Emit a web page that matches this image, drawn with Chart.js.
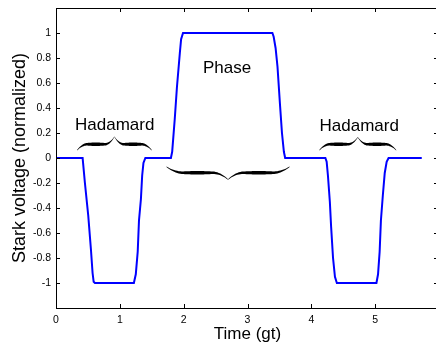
<!DOCTYPE html>
<html>
<head>
<meta charset="utf-8">
<script src="https://cdn.jsdelivr.net/npm/chart.js@4"></script>
<style>
  html, body { margin: 0; padding: 0; background: #fff; overflow: hidden; }
  #wrap { width: 440px; height: 345px; }
</style>
</head>
<body>
<div id="wrap"><canvas id="chart" width="440" height="345"></canvas></div>
<script>
// --- DATA ---
const timeValues = [
  0, 0.40, 0.417, 0.435, 0.453, 0.505, 0.547, 0.573, 0.59, 0.61,
  1.22, 1.25, 1.28, 1.30, 1.33, 1.35, 1.37, 1.40,
  1.80, 1.82, 1.86, 1.895, 1.94, 1.96, 1.99,
  3.39, 3.41, 3.44, 3.47, 3.51, 3.54, 3.57, 3.59,
  4.22, 4.24, 4.26, 4.29, 4.31, 4.34, 4.37, 4.40,
  5.02, 5.045, 5.07, 5.09, 5.12, 5.15, 5.18, 5.21,
  5.73
];
const voltageValues = [
  0, 0, 0, -0.1, -0.2, -0.46, -0.73, -0.92, -0.99, -1,
  -1, -0.93, -0.75, -0.5, -0.33, -0.14, -0.04, 0,
  0, 0.05, 0.31, 0.57, 0.84, 0.95, 1,
  1, 0.97, 0.88, 0.73, 0.42, 0.2, 0.05, 0,
  0, -0.03, -0.14, -0.35, -0.55, -0.8, -0.95, -1,
  -1, -0.93, -0.75, -0.5, -0.3, -0.12, -0.03, 0,
  0
];
const xTicks = [0, 1, 2, 3, 4, 5, 6];
const xTickLabels = ["0", "1", "2", "3", "4", "5", ""]; // 6 is cut off at the edge
const yTicks = [-1, -0.8, -0.6, -0.4, -0.2, 0, 0.2, 0.4, 0.6, 0.8, 1];
const yTickLabels = ["-1", "-0.8", "-0.6", "-0.4", "-0.2", "0", "0.2", "0.4", "0.6", "0.8", "1"];

// annotation labels above the pulses
const noteTexts = ["Hadamard", "Phase", "Hadamard"];
const noteX = [0.92, 2.68, 4.75];
const noteY = [0.224, 0.678, 0.216];

// --- LAYOUT / STYLE ---
const FONT = '"Liberation Sans", Arial, sans-serif';
const LINE_BLUE = "#0000ff";

// braces: [from, to, tip, band, peak] in data units
const braces = [
  [0.33, 1.50, 0.062, 0.11, 0.17],
  [4.125, 5.33, 0.062, 0.11, 0.165],
  [1.73, 3.66, -0.07, -0.118, -0.172]
];

// --- PLUGINS ---
const frameTicks = {
  id: "frameTicks",
  afterDraw(chart) {
    // MATLAB style box with inward tick marks
    const { ctx, chartArea: a, scales } = chart;
    ctx.save();
    ctx.strokeStyle = "#000";
    ctx.lineWidth = 1;
    ctx.strokeRect(a.left + 0.5, a.top + 0.5, a.right - a.left - 1, a.bottom - a.top);
    ctx.beginPath();
    xTicks.forEach(v => {
      const px = Math.round(scales.x.getPixelForValue(v)) + 0.5;
      ctx.moveTo(px, a.bottom); ctx.lineTo(px, a.bottom - 4);
      ctx.moveTo(px, a.top); ctx.lineTo(px, a.top + 4);
    });
    yTicks.forEach(v => {
      const py = Math.round(scales.y.getPixelForValue(v)) + 0.5;
      ctx.moveTo(a.left, py); ctx.lineTo(a.left + 4, py);
      ctx.moveTo(a.right, py); ctx.lineTo(a.right - 5, py);
    });
    ctx.stroke();
    ctx.restore();
  }
};

const notes = {
  id: "notes",
  afterDatasetsDraw(chart) {
    const { ctx, scales } = chart;
    ctx.save();
    ctx.fillStyle = "#000";
    ctx.font = "17px " + FONT;
    ctx.textAlign = "center";
    ctx.textBaseline = "alphabetic";
    noteTexts.forEach((t, i) => {
      ctx.fillText(t, scales.x.getPixelForValue(noteX[i]), scales.y.getPixelForValue(noteY[i]));
    });
    braces.forEach(b => drawBrace(ctx, scales, b));
    ctx.restore();
  }
};

function drawBrace(ctx, scales, b) {
  // curly brace as a filled shape, thick in the middle of each half
  const x1 = scales.x.getPixelForValue(b[0]);
  const x2 = scales.x.getPixelForValue(b[1]);
  const tip = scales.y.getPixelForValue(b[2]);
  const band = scales.y.getPixelForValue(b[3]);
  const peak = scales.y.getPixelForValue(b[4]);
  const xm = (x1 + x2) / 2;
  const N = 40;
  [[x1, xm], [x2, xm]].forEach(([xs, xe]) => {
    const top = [], bot = [];
    for (let i = 0; i <= N; i++) {
      const u = i / N;
      const x = xs + u * (xe - xs);
      let y = band;
      if (u < 0.28) y += (tip - band) * Math.pow(1 - u / 0.28, 2);
      if (u > 0.75) y += (peak - band) * Math.pow((u - 0.75) / 0.25, 2);
      const t = 0.6 + 2.8 * Math.sin(Math.PI * u);
      top.push([x, y - t / 2]);
      bot.push([x, y + t / 2]);
    }
    ctx.beginPath();
    top.forEach((p, i) => (i ? ctx.lineTo(p[0], p[1]) : ctx.moveTo(p[0], p[1])));
    bot.reverse().forEach(p => ctx.lineTo(p[0], p[1]));
    ctx.closePath();
    ctx.fill();
  });
}

// --- CHART ---
Chart.defaults.font.family = FONT;
Chart.defaults.color = "#000";

new Chart(document.getElementById("chart"), {
  type: "line",
  data: {
    datasets: [{
      data: timeValues.map((t, i) => ({ x: t, y: voltageValues[i] })),
      borderColor: LINE_BLUE,
      borderWidth: 2,
      pointRadius: 0,
      tension: 0,
      fill: false
    }]
  },
  options: {
    responsive: false,
    devicePixelRatio: 1,
    animation: false,
    layout: { padding: { top: 8, right: 1, left: 0, bottom: 0 } },
    plugins: { legend: { display: false }, tooltip: { enabled: false } },
    scales: {
      x: {
        type: "linear",
        min: 0,
        max: 6,
        afterBuildTicks: s => { s.ticks = xTicks.map(v => ({ value: v })); },
        afterFit: s => { s.height = 37; s.paddingLeft = 0; s.paddingRight = 0; },
        grid: { drawOnChartArea: false, drawTicks: false },
        border: { display: false },
        ticks: {
          font: { size: 10.5 }, color: "#000", padding: 6, maxRotation: 0,
          callback: (v, i) => xTickLabels[i]
        },
        title: { display: true, text: "Time (gt)", font: { size: 17 }, color: "#000", padding: { top: 0, bottom: 0 } }
      },
      y: {
        min: -1.2,
        max: 1.2,
        afterBuildTicks: s => { s.ticks = yTicks.map(v => ({ value: v })); },
        afterFit: s => { s.width = 56; s.paddingTop = 0; s.paddingBottom = 0; },
        grid: { drawOnChartArea: false, drawTicks: false },
        border: { display: false },
        ticks: {
          font: { size: 10.5 }, color: "#000", padding: 5,
          callback: (v, i) => yTickLabels[i]
        },
        title: { display: true, text: "Stark voltage (normalized)", font: { size: 18 }, color: "#000", padding: { top: 9, bottom: 0 } }
      }
    }
  },
  plugins: [frameTicks, notes]
});
</script>
</body>
</html>
